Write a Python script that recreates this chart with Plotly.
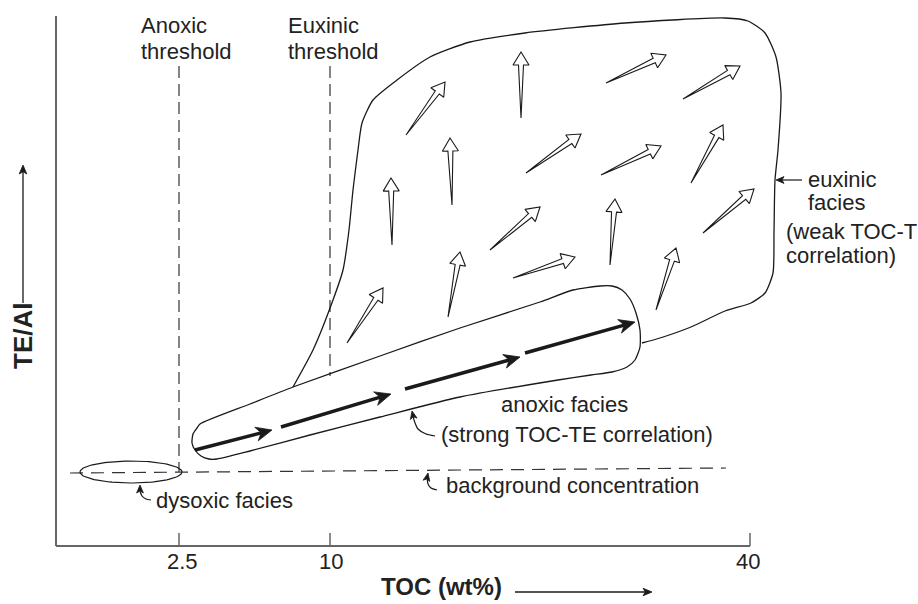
import numpy as np
import plotly.graph_objects as go

W, H = 918, 604
FONT = "Liberation Sans, Arial, Helvetica, sans-serif"
INK = "#1a1a1a"
TXT = "#222222"
AXC = "#666666"

# ---------------- data (schematic units, same scale as the reference picture) -------------
axis_x_span = [56, 750]
axis_x_level = 546
axis_y_span = [16, 546]
axis_y_level = 56
tick_x = [179, 330, 750]
tick_labels = ["2.5", "10", "40"]
tick_label_x = [182, 331, 748]
tick_top = 533
tick_label_baseline = 569

anoxic_threshold_x = 179
anoxic_threshold_y = [66, 472]
euxinic_threshold_x = 330
euxinic_threshold_y = [66, 376]
background_x = [70, 726]
background_y = [473, 468]

dysoxic_center = [131, 472]
dysoxic_radii = [51, 11]

anoxic_x = [200, 250, 293, 380, 460, 540, 573, 600, 612, 622, 630, 636, 640, 640, 635, 627,
            612, 591, 558, 460, 380, 310, 250, 217, 209, 201, 195, 192, 193, 197, 200]
anoxic_y = [424, 404, 387, 356, 328, 302, 290, 286, 286, 290, 299, 313, 330, 347, 360, 367,
            372, 375, 380, 397, 417, 435, 451, 459, 459, 456, 450, 443, 434, 428, 424]

euxinic_x = [293, 313, 333, 343, 349, 353, 358, 362, 373, 397, 430, 470, 525, 625, 725, 748,
             765, 776, 781, 778, 775, 774, 773, 765, 751, 725, 691, 660, 642]
euxinic_y = [387, 350, 300, 270, 230, 190, 150, 123, 100, 80, 57, 42, 33, 23, 18, 21,
             33, 57, 93, 150, 180, 233, 273, 293, 303, 311, 327, 338, 343]

trend_tail_x = [195, 281, 405, 525]
trend_tail_y = [450, 427, 389, 353]
trend_tip_x = [272, 391, 520, 635]
trend_tip_y = [430, 394, 357, 322]

scatter_tail_x = [406, 392, 452, 347, 448, 521, 606, 683, 526, 601, 691, 490, 610, 703, 513, 656]
scatter_tail_y = [135, 245, 205, 343, 317, 118, 83, 99, 173, 175, 183, 250, 265, 233, 278, 310]
scatter_tip_x = [445, 391, 450, 383, 460, 521, 666, 740, 581, 661, 723, 540, 615, 754, 575, 676]
scatter_tip_y = [82, 178, 138, 288, 252, 52, 55, 66, 134, 146, 125, 207, 199, 189, 257, 248]

y_arrow_x = [23, 23]
y_arrow_y = [303, 165]
x_arrow_x = [515, 652]
x_arrow_y = [592, 592]
euxinic_pointer_x = [802, 776]
euxinic_pointer_y = [180, 180]
strong_pointer_x = [435, 426, 418, 414, 412]
strong_pointer_y = [436, 434, 429, 420, 411]
background_pointer_x = [437, 431, 428, 427, 428]
background_pointer_y = [490, 488, 484, 478, 473]
dysoxic_pointer_x = [151, 146, 142, 140, 140]
dysoxic_pointer_y = [500, 499, 496, 491, 485]

labels = [
    ("Anoxic", 140, 33), ("threshold", 140, 59),
    ("Euxinic", 287, 33), ("threshold", 287, 59),
    ("euxinic", 807, 187), ("facies", 807, 210),
    ("(weak TOC-TE", 785, 239), ("correlation)", 785, 263),
    ("anoxic facies", 500, 412), ("(strong TOC-TE correlation)", 440, 442),
    ("background concentration", 445, 493),
    ("dysoxic facies", 155, 508),
]
x_title = ("TOC (wt%)", 380, 595)
y_title = ("TE/Al", 23, 336)

# ---------------- helpers -------------
def unit(tail, tip):
    d = np.array(tip, float) - np.array(tail, float)
    d /= np.hypot(*d)
    return d, np.array([-d[1], d[0]])


def solid_head(tail, tip, length, half_w, notch=0.25):
    d, n = unit(tail, tip)
    t = np.array(tip, float)
    base = t - d * length
    back = t - d * length * (1 - notch)
    pts = [t, base + n * half_w, back, base - n * half_w, t]
    return [p[0] for p in pts], [p[1] for p in pts], back


def hollow_arrow(tail, tip, length=13, half_w=8, shaft=2.5):
    d, n = unit(tail, tip)
    t = np.array(tip, float)
    base = t - d * length
    a = np.array(tail, float)
    pts = [a, base + n * shaft, base + n * half_w, t, base - n * half_w, base - n * shaft, a]
    return [p[0] for p in pts], [p[1] for p in pts]


fig = go.Figure()


def line(xs, ys, width=1.3, color=INK, dash=None, shape="linear"):
    fig.add_trace(go.Scatter(x=xs, y=ys, mode="lines",
                             line=dict(color=color, width=width, dash=dash, shape=shape,
                                       smoothing=0.6 if shape == "spline" else None),
                             hoverinfo="skip", showlegend=False))


def filled(xs, ys, color=INK):
    fig.add_trace(go.Scatter(x=xs, y=ys, mode="lines", fill="toself", fillcolor=color,
                             line=dict(color=color, width=0.8),
                             hoverinfo="skip", showlegend=False))


def pointer(xs, ys, width=1.1, hl=9, hw=3.6):
    hx, hy, back = solid_head((xs[-2], ys[-2]), (xs[-1], ys[-1]), hl, hw)
    line(list(xs[:-1]) + [back[0]], list(ys[:-1]) + [back[1]], width=width,
         shape="spline" if len(xs) > 2 else "linear")
    filled(hx, hy)

# axes
line(axis_x_span, [axis_x_level] * 2, width=2, color=AXC)
line([axis_y_level] * 2, axis_y_span, width=2, color=AXC)
for tx in tick_x:
    line([tx, tx], [tick_top, axis_x_level], width=1.5, color=AXC)

# thresholds and background
line([anoxic_threshold_x] * 2, anoxic_threshold_y, width=1.2, color="#333", dash="12px,6px")
line([euxinic_threshold_x] * 2, euxinic_threshold_y, width=1.2, color="#333", dash="12px,6px")
line(background_x, background_y, width=1.2, color="#333", dash="13px,8px")

# dysoxic ellipse
t = np.linspace(0, 2 * np.pi, 120)
line(dysoxic_center[0] + dysoxic_radii[0] * np.cos(t),
     dysoxic_center[1] + dysoxic_radii[1] * np.sin(t), width=1.2)

# facies outlines
line(anoxic_x, anoxic_y, width=1.3, shape="spline")
line(euxinic_x, euxinic_y, width=1.3, shape="spline")

# trend arrows (anoxic)
for tx0, ty0, tx1, ty1 in zip(trend_tail_x, trend_tail_y, trend_tip_x, trend_tip_y):
    hx, hy, back = solid_head((tx0, ty0), (tx1, ty1), 16, 7, notch=0.3)
    line([tx0, back[0]], [ty0, back[1]], width=3.4)
    filled(hx, hy)

# scattered hollow arrows (euxinic)
for tx0, ty0, tx1, ty1 in zip(scatter_tail_x, scatter_tail_y, scatter_tip_x, scatter_tip_y):
    hx, hy = hollow_arrow((tx0, ty0), (tx1, ty1))
    line(hx, hy, width=1.1)

# pointers
pointer(y_arrow_x, y_arrow_y, width=1.3, hl=9, hw=3.8)
pointer(x_arrow_x, x_arrow_y, width=1.3, hl=9, hw=3.8)
pointer(euxinic_pointer_x, euxinic_pointer_y, width=1.2, hl=8, hw=3.4)
pointer(strong_pointer_x, strong_pointer_y, width=1.2, hl=8, hw=3.4)
pointer(background_pointer_x, background_pointer_y, width=1.2, hl=8, hw=3.4)
pointer(dysoxic_pointer_x, dysoxic_pointer_y, width=1.2, hl=8, hw=3.4)

# texts
ann = []
for txt, x, yb in labels:
    ann.append(dict(text=txt, x=x, y=yb - 0.35 * 22, xanchor="left", yanchor="middle",
                    showarrow=False, font=dict(family=FONT, size=22, color=TXT), borderpad=0))
for txt, x in zip(tick_labels, tick_label_x):
    ann.append(dict(text=txt, x=x, y=tick_label_baseline - 0.35 * 22, xanchor="center",
                    yanchor="middle", showarrow=False,
                    font=dict(family=FONT, size=22, color=TXT), borderpad=0))
ann.append(dict(text="<b>" + x_title[0] + "</b>", x=x_title[1], y=x_title[2] - 0.35 * 24,
                xanchor="left", yanchor="middle", showarrow=False,
                font=dict(family=FONT, size=24, color=TXT), borderpad=0))
ann.append(dict(text="<b>" + y_title[0] + "</b>", x=y_title[1], y=y_title[2], textangle=-90,
                xanchor="center", yanchor="middle", showarrow=False,
                font=dict(family=FONT, size=26, color=TXT), borderpad=0))

fig.update_layout(
    width=W, height=H, margin=dict(l=0, r=0, t=0, b=0),
    paper_bgcolor="white", plot_bgcolor="white",
    xaxis=dict(range=[0, W], visible=False, fixedrange=True),
    yaxis=dict(range=[H, 0], visible=False, fixedrange=True),
    annotations=ann, showlegend=False, hovermode=False,
)

fig.write_html("out.html", config={"displayModeBar": False})
